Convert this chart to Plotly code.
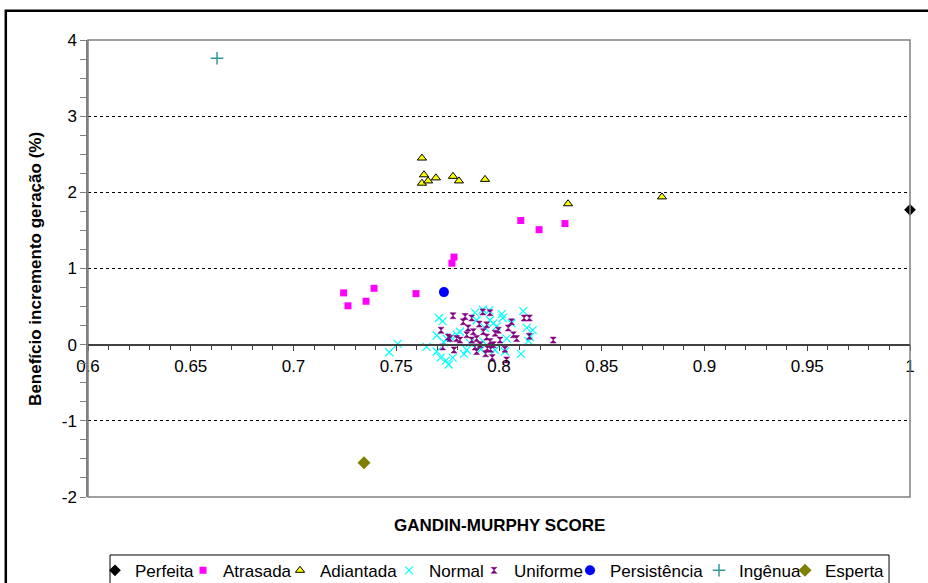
import plotly.graph_objects as go

# Gandin-Murphy score (x) vs. incremental generation benefit in % (y)
perfeita_x = [1.0]
perfeita_y = [1.77]

atrasada_x = [0.7244, 0.7265, 0.7353, 0.7392, 0.7596, 0.7771, 0.7781, 0.8106, 0.8195, 0.8321]
atrasada_y = [0.68, 0.51, 0.57, 0.74, 0.67, 1.07, 1.15, 1.63, 1.51, 1.59]

adiantada_x = [0.7625, 0.7635, 0.7625, 0.7655, 0.7693, 0.7776, 0.7805, 0.7932, 0.8336, 0.8793]
adiantada_y = [2.45, 2.23, 2.12, 2.15, 2.19, 2.21, 2.15, 2.17, 1.85, 1.94]

normal_x = [0.7466, 0.7507, 0.7648, 0.7697, 0.7708, 0.7726, 0.7697, 0.7716, 0.7742, 0.7755,
            0.7775, 0.7732, 0.7745, 0.7765, 0.7794, 0.7830, 0.7843, 0.7883, 0.7891, 0.7921,
            0.7953, 0.7912, 0.7932, 0.7956, 0.7972, 0.7989, 0.8013, 0.8018, 0.7981, 0.8029,
            0.8037, 0.8061, 0.8107, 0.8118, 0.8135, 0.8143, 0.8164, 0.8151, 0.7924, 0.7859,
            0.7810]
normal_y = [-0.10, 0.01, -0.03, 0.12, 0.35, 0.31, -0.09, -0.17, -0.21, -0.26,
            -0.17, 0.03, 0.08, 0.10, 0.13, -0.12, -0.07, 0.42, 0.32, 0.46,
            0.45, -0.06, 0.22, 0.32, 0.28, 0.24, 0.40, 0.35, -0.07, -0.09,
            0.08, 0.28, -0.12, 0.44, 0.22, 0.05, 0.19, 0.10, 0.04, 0.02,
            0.17]

uniforme_x = [0.7776, 0.7718, 0.7726, 0.7781, 0.7753, 0.7794, 0.7835, 0.7867, 0.7826, 0.7850,
              0.7843, 0.7867, 0.7883, 0.7904, 0.7921, 0.7956, 0.7924, 0.7940, 0.7956, 0.7935,
              0.7967, 0.7959, 0.8005, 0.8029, 0.8037, 0.8061, 0.8045, 0.8070, 0.8086, 0.8122,
              0.8148, 0.8148, 0.8264, 0.7981, 0.7891, 0.7810, 0.7761, 0.7875, 0.7940, 0.7997,
              0.7908, 0.7972, 0.7891, 0.7943]
uniforme_y = [0.38, 0.19, -0.03, -0.07, 0.10, 0.08, 0.37, 0.35, 0.30, 0.22,
              0.13, 0.06, -0.03, 0.27, 0.43, 0.42, 0.17, 0.10, 0.04, -0.12,
              -0.17, -0.06, 0.06, -0.06, -0.20, 0.30, 0.22, 0.13, 0.08, 0.35,
              0.35, 0.11, 0.06, 0.15, 0.08, 0.06, 0.08, 0.17, 0.26, 0.19,
              0.00, 0.00, -0.09, -0.05]

persistencia_x = [0.7732]
persistencia_y = [0.69]

ingenua_x = [0.6628]
ingenua_y = [3.76]

esperta_x = [0.7343]
esperta_y = [-1.55]

x_ticks = [0.6, 0.65, 0.7, 0.75, 0.8, 0.85, 0.9, 0.95, 1.0]
x_tick_text = ["0.6", "0.65", "0.7", "0.75", "0.8", "0.85", "0.9", "0.95", "1"]
y_ticks = [-2, -1, 0, 1, 2, 3, 4]
y_tick_text = ["-2", "-1", "0", "1", "2", "3", "4"]

FONT = "Arial, Liberation Sans, sans-serif"
LEGEND_FONT = dict(family=FONT, size=17, color="black")

series = [
    ("Perfeita", perfeita_x, perfeita_y, dict(symbol="diamond", size=9, color="black")),
    ("Atrasada", atrasada_x, atrasada_y, dict(symbol="square", size=7, color="#FF00FF")),
    ("Adiantada", adiantada_x, adiantada_y,
     dict(symbol="triangle-up", size=8, color="#FFFF00", line=dict(color="black", width=1))),
    ("Normal", normal_x, normal_y,
     dict(symbol="x-thin-open", size=8, color="#00FFFF", line=dict(color="#00FFFF", width=1.2))),
    ("Uniforme", uniforme_x, uniforme_y,
     dict(symbol="hourglass", size=6, color="#800080", line=dict(color="#800080", width=0.5))),
    ("Persistência", persistencia_x, persistencia_y, dict(symbol="circle", size=10, color="#0000FF")),
    ("Ingênua", ingenua_x, ingenua_y,
     dict(symbol="cross-thin-open", size=9, color="#339999", line=dict(color="#339999", width=1.5))),
    ("Esperta", esperta_x, esperta_y, dict(symbol="diamond", size=10, color="#808000")),
]

# one single-entry legend per series, laid out in a row under the chart
legend_x = [0.0085, 0.1156, 0.2336, 0.3662, 0.4696, 0.5864, 0.7433, 0.8479]
legend_y = -0.122

fig = go.Figure()
legend_layout = {}
for i, ((name, xs, ys, marker), lx) in enumerate(zip(series, legend_x)):
    key = "legend" if i == 0 else f"legend{i + 1}"
    fig.add_trace(go.Scatter(x=xs, y=ys, mode="markers", name=name, marker=marker,
                             cliponaxis=False, legend=key))
    legend_layout[key] = dict(
        orientation="h", x=lx, xanchor="left", y=legend_y, yanchor="top",
        bgcolor="rgba(0,0,0,0)", borderwidth=0, font=LEGEND_FONT,
        itemwidth=30,
    )

fig.update_layout(
    width=928, height=583,
    margin=dict(l=88, r=18, t=40, b=86, autoexpand=False),
    paper_bgcolor="white",
    plot_bgcolor="white",
    font=dict(family=FONT, size=17, color="black"),
    showlegend=True,
    xaxis=dict(
        range=[0.6, 1.0], tickvals=x_ticks, ticktext=x_tick_text,
        anchor="free", position=1 / 3,
        showline=True, linecolor="#404040", linewidth=1.5,
        ticks="outside", ticklen=6, tickcolor="#404040", tickwidth=1,
        minor=dict(dtick=0.01, ticks="outside", ticklen=5, tickcolor="#404040", showgrid=False),
        showgrid=False, zeroline=False,
        tickfont=dict(family=FONT, size=17, color="black"),
    ),
    yaxis=dict(
        range=[-2, 4], tickvals=y_ticks, ticktext=y_tick_text,
        showline=True, linecolor="#808080", linewidth=1.5,
        ticks="outside", ticklen=6, tickcolor="#808080", tickwidth=1,
        minor=dict(dtick=0.25, ticks="outside", ticklen=6, tickcolor="#808080", showgrid=False),
        showgrid=True, gridcolor="black", gridwidth=1, griddash="3px,3px",
        zeroline=False,
        tickfont=dict(family=FONT, size=17, color="black"),
    ),
    annotations=[
        dict(text="<b>Benefício incremento geração (%)</b>", textangle=-90,
             xref="paper", yref="paper", x=-0.064, y=0.5, xanchor="center", yanchor="middle",
             showarrow=False, font=dict(family=FONT, size=17, color="black")),
        dict(text="<b>GANDIN-MURPHY SCORE</b>",
             xref="paper", yref="paper", x=0.5, y=-0.0613, xanchor="center", yanchor="middle",
             showarrow=False, font=dict(family=FONT, size=17, color="black")),
    ],
    shapes=[
        # plot-area frame
        dict(type="rect", xref="paper", yref="paper", x0=0, x1=1, y0=0, y1=1,
             line=dict(color="#808080", width=1.5), layer="above"),
        # outer chart border
        dict(type="rect", xref="paper", yref="paper", x0=-0.1, x1=1.1, y0=-0.3, y1=1.064,
             line=dict(color="black", width=2.5), layer="above"),
        # legend frame
        dict(type="rect", xref="paper", yref="paper", x0=0.0268, x1=0.9745, y0=-0.3, y1=-0.1269,
             line=dict(color="black", width=1), layer="above"),
    ],
    **legend_layout,
)

# keep the zero axis drawn over the frame
fig.add_shape(type="line", xref="paper", yref="y", x0=0, x1=1, y0=0, y1=0,
              line=dict(color="#404040", width=1.5), layer="above")

fig.write_html("out.html")
